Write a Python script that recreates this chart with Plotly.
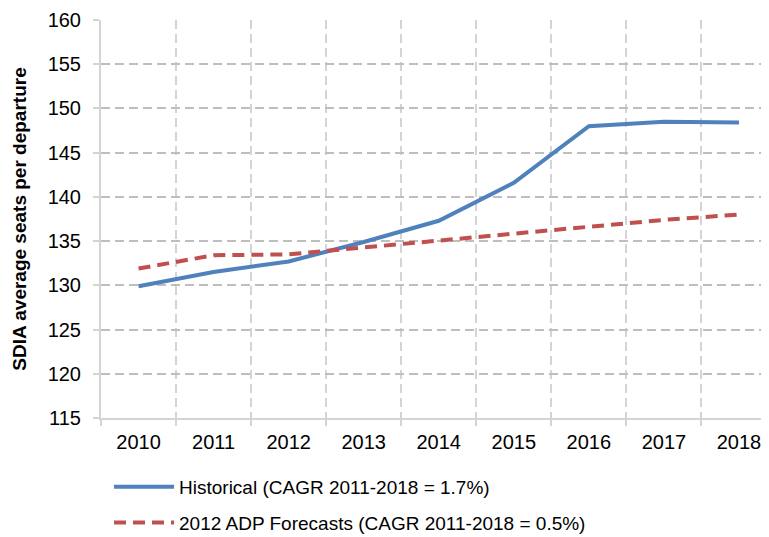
import plotly.graph_objects as go

years = ["2010", "2011", "2012", "2013", "2014", "2015", "2016", "2017", "2018"]
historical = [129.9, 131.5, 132.7, 134.9, 137.3, 141.6, 148.0, 148.5, 148.4]
forecast = [131.9, 133.4, 133.5, 134.3, 135.1, 135.85, 136.6, 137.4, 138.0]
name_hist = "Historical (CAGR 2011-2018 = 1.7%)"
name_fc = "2012 ADP Forecasts (CAGR 2011-2018 = 0.5%)"
y_title = "SDIA average seats per departure"

FONT = "Liberation Sans, Arial, sans-serif"

fig = go.Figure()
fig.add_trace(go.Scatter(x=years, y=historical, mode="lines", name=name_hist,
                         legendgroup="a",
                         line=dict(color="#4F81BD", width=4)))
fig.add_trace(go.Scatter(x=years, y=forecast, mode="lines", name=name_fc,
                         legendgroup="b",
                         line=dict(color="#C0504D", width=4, dash="12px,7px")))

fig.update_layout(
    width=761, height=529,
    margin=dict(l=93, r=0, t=12, b=119),
    paper_bgcolor="white", plot_bgcolor="white",
    font=dict(family=FONT, size=20, color="black"),
    showlegend=True,
    legend=dict(orientation="v", x=0.012, xanchor="left",
                yref="container", y=1 - 460 / 529, yanchor="top",
                font=dict(family=FONT, size=19), itemwidth=60,
                tracegroupgap=8, traceorder="grouped", bgcolor="rgba(0,0,0,0)"),
    xaxis=dict(type="category", range=[-0.5, 8.4], tickson="boundaries",
               automargin=False,
               showgrid=True, gridcolor="#D4D4D4", griddash="9px,5px", gridwidth=2,
               showline=True, linecolor="#D4D4D4", linewidth=2,
               ticks="outside", ticklen=6, tickcolor="#D4D4D4", tickwidth=2,
               ticklabelstandoff=5, tickangle=0,
               tickfont=dict(size=20), zeroline=False),
    yaxis=dict(range=[115, 160], dtick=5, tick0=115, automargin=False,
               showgrid=True, gridcolor="#BEBEBE", griddash="9px,5px", gridwidth=2,
               showline=True, linecolor="#D4D4D4", linewidth=2,
               ticks="outside", ticklen=6, tickcolor="#D4D4D4", tickwidth=2,
               ticklabelstandoff=8,
               tickfont=dict(size=20), zeroline=False,
               title=dict(text="<b>" + y_title + "</b>", font=dict(size=19), standoff=16)),
)

fig.write_html("out.html")
